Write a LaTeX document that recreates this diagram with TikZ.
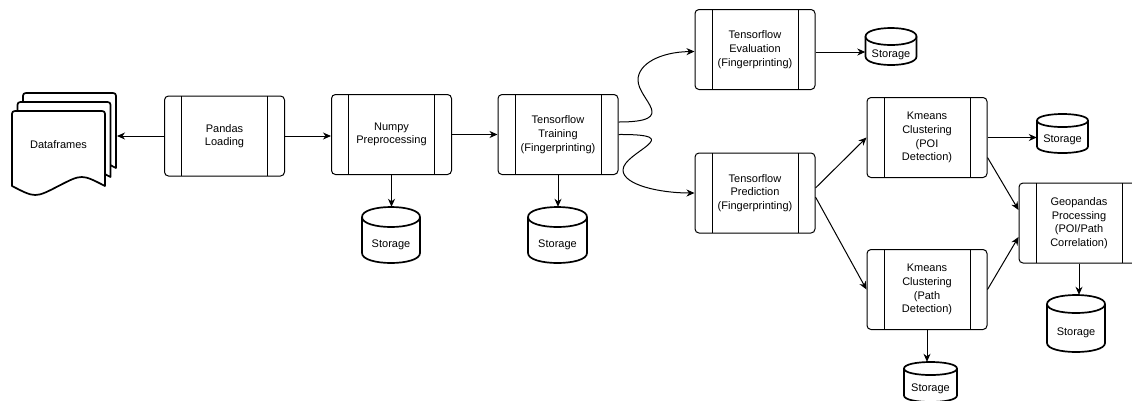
\documentclass[tikz,border=0pt]{standalone}
\usepackage{fontspec}
\setmainfont{Liberation Sans}
\usetikzlibrary{arrows.meta}

% storage cylinder: #1 name, #2 cx, #3 cy, #4 width, #5 height, #6 half height of the lid
\newcommand\storedrum[6]{%
  \pgfmathsetmacro\cyL{#2-#4/2}%
  \pgfmathsetmacro\cyR{#2+#4/2}%
  \pgfmathsetmacro\cyTa{#3-#5/2+#6}%
  \pgfmathsetmacro\cyBa{#3+#5/2-#6}%
  \pgfmathsetmacro\cyK{1.3333*#6}%
  \filldraw[drumline] (\cyL,\cyTa) -- (\cyL,\cyBa)
    .. controls (\cyL,\cyBa+\cyK) and (\cyR,\cyBa+\cyK) .. (\cyR,\cyBa)
    -- (\cyR,\cyTa)
    .. controls (\cyR,\cyTa-\cyK) and (\cyL,\cyTa-\cyK) .. (\cyL,\cyTa) -- cycle;
  \draw[drumline] (\cyL,\cyTa) .. controls (\cyL,\cyTa+\cyK) and (\cyR,\cyTa+\cyK) .. (\cyR,\cyTa);
  \node[drumnode, minimum width=#4pt, minimum height=#5pt,
        label={[txt, yshift=-#6pt]center:Storage}] (#1) at (#2,#3) {};
}

% one sheet of the document stack: #1 left, #2 top
\newcommand\docsheet[2]{%
  \pgfmathsetmacro\shR{#1+93}%
  \pgfmathsetmacro\shE{#2+75}%
  \filldraw[sheetline] (#1,\shE) -- (#1,#2+6) .. controls (#1,#2) .. (#1+6,#2)
    -- (\shR-6,#2) .. controls (\shR,#2) .. (\shR,#2+6) -- (\shR,\shE)
    .. controls (\shR-23.25,\shE-12) .. (#1+46.5,\shE)
    .. controls (#1+23.25,\shE+12) .. (#1,\shE) -- cycle;
}

\tikzset{
  txt/.style={font=\fontsize{11}{13.7}\selectfont, text=black, align=center, inner sep=0pt},
  proc/.style={txt, draw=black, line width=1pt, rounded corners=4pt, fill=white,
    minimum width=120pt, minimum height=80pt,
    path picture={
      \draw[line width=1pt, black]
        ([xshift=17pt]path picture bounding box.north west) -- ([xshift=17pt]path picture bounding box.south west)
        ([xshift=-17pt]path picture bounding box.north east) -- ([xshift=-17pt]path picture bounding box.south east);
    }},
  drumline/.style={line width=1.7pt, draw=black, fill=white},
  drumnode/.style={draw=none, inner sep=0pt},
  sheetline/.style={line width=1.7pt, draw=black, fill=white, line join=round},
  arr/.style={line width=1pt, black, -{Stealth[length=8pt, width=7pt, inset=2.5pt]}},
}

\begin{document}
\begin{tikzpicture}[x=1pt, y=-1pt]
\useasboundingbox (0,0) rectangle (1132,400);

% document stack
\docsheet{23}{93}
\docsheet{17.5}{102}
\docsheet{12}{111}
\node[txt] (df) at (58.5,145) {Dataframes};
\coordinate (dfedge) at (117,136);

% processing steps
\node[proc] (pl) at (224.5,136)  {Pandas\\Loading};
\node[proc] (np) at (391.5,134.5) {Numpy\\Preprocessing};
\node[proc] (tr) at (558,134.5)  {Tensorflow\\Training\\(Fingerprinting)};
\node[proc] (ev) at (755,49.5)   {Tensorflow\\Evaluation\\(Fingerprinting)};
\node[proc] (pr) at (755,193)    {Tensorflow\\Prediction\\(Fingerprinting)};
\node[proc] (kp) at (927,137.5)  {Kmeans\\Clustering\\(POI\\Detection)};
\node[proc] (kq) at (927,289.5)  {Kmeans\\Clustering\\(Path\\Detection)};
\node[proc] (gp) at (1079,223)   {Geopandas\\Processing\\(POI/Path\\Correlation)};

% storage
\storedrum{snp}{391}{235}{58}{56}{10}
\storedrum{str}{557.5}{235}{59}{56}{10}
\storedrum{sev}{891}{46.5}{51}{37}{8.5}
\storedrum{skp}{1062.5}{133.5}{51}{39}{6.5}
\storedrum{sgp}{1076}{323.5}{58}{57}{9}
\storedrum{skq}{930.5}{382}{53}{40}{6.5}

% connectors
\draw[arr] (pl.west) -- (pl.west -| dfedge);
\draw[arr] (pl.east) -- (pl.east -| np.west);
\draw[arr] (np.east) -- (np.east -| tr.west);
\draw[arr] (np.south) -- (np.south |- snp.north);
\draw[arr] (tr.south) -- (tr.south |- str.north);
\draw[arr] ([yshift=12.5pt]tr.east) .. controls (680,122) and (638,100) .. (638,80)
                                    .. controls (638,64) and (660,52) .. ([yshift=-2pt]ev.west);
\draw[arr] (tr.east) .. controls (690,134) and (623,152) .. (623,170)
                     .. controls (623,185) and (660,193) .. (pr.west);
\draw[arr] ([yshift=-2.5pt]ev.east) -- ([yshift=-2.5pt]ev.east -| sev.west);
\draw[arr] ([yshift=5pt]pr.east) -- (kp.west);
\draw[arr] ([yshift=-4pt]pr.east) -- (kq.west);
\draw[arr] (kp.east) -- (kp.east -| skp.west);
\draw[arr] ([yshift=-20pt]kp.east) -- ([yshift=13pt]gp.west);
\draw[arr] (kq.east) -- ([yshift=-14pt]gp.west);
\draw[arr] (kq.south) -- (kq.south |- skq.north);
\draw[arr] (gp.south) -- (gp.south |- sgp.north);
\end{tikzpicture}
\end{document}
